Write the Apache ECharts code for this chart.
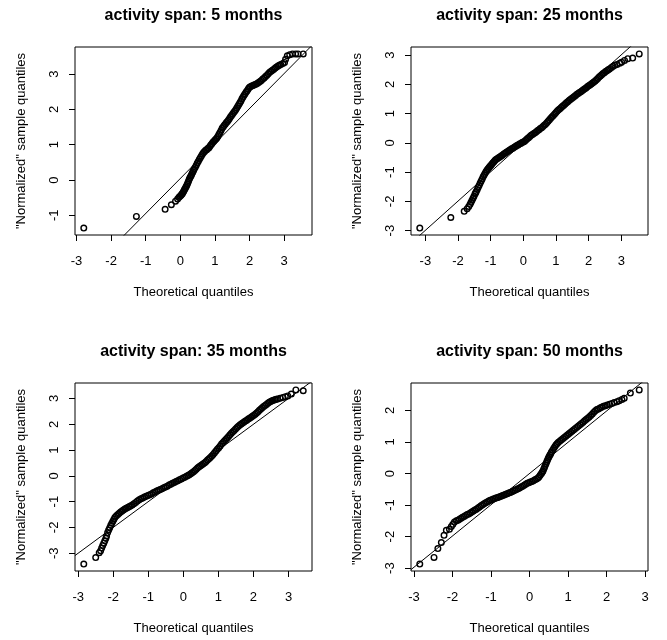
<!DOCTYPE html>
<html>
<head>
<meta charset="utf-8">
<script src="https://cdn.jsdelivr.net/npm/echarts@6/dist/echarts.min.js"></script>
<style>
  html, body { margin: 0; padding: 0; background: #ffffff; }
  #chart { width: 667px; height: 640px; }
</style>
</head>
<body>
<div id="chart"></div>
<script>
// Normal Q-Q plots of the "normalized" samples for four activity spans.
const panelTitles = [
  'activity span: 5 months',
  'activity span: 25 months',
  'activity span: 35 months',
  'activity span: 50 months'
];

const xTicks = [
  [-3, -2, -1, 0, 1, 2, 3],
  [-3, -2, -1, 0, 1, 2, 3],
  [-3, -2, -1, 0, 1, 2, 3],
  [-3, -2, -1, 0, 1, 2, 3]
];
const yTicks = [
  [-1, 0, 1, 2, 3],
  [-3, -2, -1, 0, 1, 2, 3],
  [-3, -2, -1, 0, 1, 2, 3],
  [-3, -2, -1, 0, 1, 2]
];

// reference line (qqline) for each panel: y = intercept + slope * x
const lineSlope = [0.991, 1.0, 1.0, 0.99];
const lineIntercept = [0.044, 0.01, 0.0, 0.0];

// [theoretical quantile, sample quantile]
const span5 = [
  [-2.79,-1.36],[-1.27,-1.03],[-0.44,-0.83],[-0.26,-0.70],[-0.14,-0.60],[-0.08,-0.54],[-0.04,-0.49],
  [-0.01,-0.46],[0.02,-0.43],[0.04,-0.40],[0.06,-0.38],
  [0.08,-0.35],[0.10,-0.31],[0.12,-0.27],[0.14,-0.24],[0.16,-0.20],[0.18,-0.16],[0.20,-0.12],[0.22,-0.07],
  [0.24,-0.02],[0.26,0.03],[0.28,0.07],[0.30,0.11],[0.32,0.14],[0.34,0.19],[0.36,0.23],[0.38,0.27],
  [0.40,0.31],[0.43,0.36],[0.46,0.42],[0.49,0.48],[0.52,0.53],[0.55,0.59],[0.58,0.64],[0.61,0.69],
  [0.64,0.74],[0.67,0.78],[0.70,0.81],[0.73,0.84],[0.76,0.86],[0.79,0.89],[0.82,0.91],[0.85,0.95],
  [0.88,0.99],[0.91,1.03],[0.94,1.07],[0.97,1.10],[1.00,1.13],[1.03,1.16],[1.06,1.20],[1.09,1.25],
  [1.12,1.30],[1.15,1.35],[1.18,1.41],[1.21,1.47],[1.24,1.51],[1.27,1.55],[1.30,1.59],[1.33,1.63],
  [1.36,1.66],[1.39,1.70],[1.42,1.74],[1.45,1.79],[1.48,1.83],[1.51,1.87],[1.54,1.91],[1.57,1.95],
  [1.60,1.99],[1.63,2.04],[1.66,2.09],[1.69,2.14],[1.72,2.19],[1.75,2.24],[1.78,2.30],[1.81,2.35],
  [1.84,2.40],[1.87,2.44],[1.90,2.49],[1.93,2.53],[1.96,2.58],[1.99,2.62],[2.02,2.64],[2.06,2.66],
  [2.10,2.68],[2.14,2.70],[2.18,2.71],[2.22,2.73],[2.26,2.76],[2.30,2.79],[2.34,2.82],[2.38,2.86],
  [2.42,2.89],[2.46,2.93],[2.50,2.97],[2.54,3.01],[2.58,3.05],[2.62,3.08],[2.66,3.11],[2.70,3.14],
  [2.74,3.17],[2.78,3.20],[2.82,3.23],[2.86,3.25],[2.90,3.27],
  [2.96,3.30],[3.01,3.33],[3.04,3.42],[3.09,3.52],[3.16,3.55],[3.24,3.57],[3.33,3.57],[3.40,3.57],[3.55,3.57]
];

const span25 = [
  [-3.17,-2.91],[-2.22,-2.55],[-1.81,-2.34],[-1.72,-2.25],[-1.67,-2.17],[-1.63,-2.10],[-1.60,-2.03],
  [-1.57,-1.96],[-1.54,-1.89],[-1.51,-1.82],[-1.48,-1.75],[-1.46,-1.70],
  [-1.44,-1.66],[-1.41,-1.59],[-1.38,-1.52],[-1.35,-1.45],[-1.32,-1.37],[-1.29,-1.30],[-1.26,-1.23],
  [-1.23,-1.16],[-1.20,-1.10],[-1.17,-1.04],[-1.14,-0.98],[-1.11,-0.93],[-1.08,-0.88],[-1.05,-0.84],
  [-1.02,-0.80],[-0.99,-0.76],[-0.96,-0.72],[-0.93,-0.68],[-0.90,-0.64],[-0.87,-0.60],[-0.84,-0.57],
  [-0.80,-0.54],[-0.76,-0.51],[-0.72,-0.48],[-0.68,-0.45],[-0.64,-0.42],[-0.60,-0.38],[-0.56,-0.35],
  [-0.52,-0.32],[-0.48,-0.29],[-0.44,-0.26],[-0.40,-0.23],[-0.36,-0.20],[-0.32,-0.18],[-0.28,-0.15],
  [-0.24,-0.12],[-0.20,-0.09],[-0.16,-0.07],[-0.12,-0.04],[-0.08,-0.02],[-0.04,0.01],[0.00,0.03],
  [0.04,0.06],[0.08,0.10],[0.12,0.14],[0.16,0.18],[0.20,0.22],[0.24,0.26],[0.28,0.29],[0.32,0.32],
  [0.36,0.35],[0.40,0.38],[0.44,0.42],[0.48,0.45],[0.52,0.49],[0.56,0.52],[0.60,0.56],[0.64,0.60],
  [0.68,0.64],[0.72,0.69],[0.76,0.74],[0.80,0.79],[0.84,0.84],[0.88,0.89],[0.92,0.94],[0.96,0.99],
  [1.00,1.04],[1.04,1.09],[1.08,1.13],[1.12,1.17],[1.16,1.21],[1.20,1.25],[1.24,1.29],[1.28,1.33],
  [1.32,1.37],[1.36,1.41],[1.40,1.45],[1.44,1.48],[1.48,1.52],[1.52,1.55],[1.56,1.59],[1.60,1.62],
  [1.64,1.66],[1.68,1.69],[1.72,1.72],[1.76,1.75],[1.80,1.78],[1.84,1.82],[1.88,1.85],[1.92,1.88],
  [1.96,1.92],[2.00,1.95],[2.04,1.98],[2.08,2.01],[2.12,2.05],[2.16,2.08],[2.20,2.12],[2.24,2.16],
  [2.28,2.20],[2.32,2.25],[2.36,2.29],[2.40,2.33],[2.44,2.37],[2.48,2.40],[2.52,2.44],[2.56,2.47],
  [2.60,2.50],[2.64,2.53],
  [2.70,2.58],[2.75,2.62],[2.80,2.65],[2.87,2.68],[2.95,2.72],[3.01,2.76],[3.10,2.82],[3.20,2.88],
  [3.35,2.90],[3.55,3.04]
];

const span35 = [
  [-2.84,-3.42],[-2.50,-3.17],[-2.40,-2.98],[-2.36,-2.90],[-2.33,-2.80],[-2.30,-2.70],[-2.27,-2.61],
  [-2.24,-2.52],[-2.21,-2.42],[-2.19,-2.33],
  [-2.16,-2.20],[-2.13,-2.10],[-2.10,-2.01],[-2.07,-1.92],[-2.04,-1.84],[-2.01,-1.76],[-1.98,-1.68],
  [-1.95,-1.61],[-1.91,-1.55],[-1.87,-1.50],[-1.83,-1.45],[-1.79,-1.40],[-1.75,-1.36],[-1.71,-1.32],
  [-1.67,-1.29],[-1.63,-1.26],[-1.59,-1.23],[-1.55,-1.20],[-1.51,-1.17],[-1.46,-1.13],[-1.41,-1.08],
  [-1.36,-1.03],[-1.31,-0.98],[-1.26,-0.93],[-1.21,-0.89],[-1.16,-0.86],[-1.11,-0.82],[-1.06,-0.79],
  [-1.01,-0.76],[-0.96,-0.73],[-0.91,-0.70],[-0.86,-0.66],[-0.81,-0.63],[-0.76,-0.59],[-0.71,-0.56],
  [-0.66,-0.53],[-0.61,-0.50],[-0.56,-0.46],[-0.51,-0.43],[-0.46,-0.40],[-0.41,-0.36],[-0.36,-0.33],
  [-0.31,-0.29],[-0.26,-0.26],[-0.21,-0.22],[-0.16,-0.19],[-0.11,-0.15],[-0.06,-0.12],[-0.01,-0.08],
  [0.04,-0.05],[0.09,-0.02],[0.13,0.01],[0.17,0.04],[0.21,0.08],[0.25,0.12],[0.29,0.16],[0.33,0.21],
  [0.37,0.26],[0.41,0.31],[0.45,0.35],[0.49,0.39],[0.53,0.43],[0.57,0.47],[0.61,0.51],[0.65,0.56],
  [0.69,0.61],[0.73,0.66],[0.77,0.71],[0.81,0.77],[0.85,0.83],[0.89,0.90],[0.93,0.96],[0.97,1.03],
  [1.01,1.09],[1.05,1.16],[1.09,1.23],[1.13,1.29],[1.17,1.35],[1.21,1.41],[1.25,1.47],[1.29,1.53],
  [1.33,1.59],[1.37,1.65],[1.41,1.71],[1.45,1.76],[1.49,1.82],[1.53,1.87],[1.57,1.92],[1.61,1.97],
  [1.65,2.01],[1.69,2.05],[1.73,2.09],[1.77,2.13],[1.81,2.16],[1.85,2.20],[1.89,2.23],[1.93,2.27],
  [1.97,2.31],[2.01,2.35],[2.05,2.39],[2.09,2.44],[2.13,2.49],[2.17,2.54],[2.21,2.59],[2.25,2.64],
  [2.29,2.69],[2.33,2.73],[2.37,2.77],[2.41,2.81],[2.45,2.85],[2.49,2.88],[2.53,2.91],[2.57,2.93],
  [2.61,2.95],[2.65,2.97],[2.69,2.98],
  [2.76,3.01],[2.84,3.04],[2.91,3.07],[2.98,3.10],[3.08,3.17],[3.21,3.33],[3.42,3.30]
];

const span50 = [
  [-2.85,-2.87],[-2.48,-2.66],[-2.38,-2.38],[-2.29,-2.19],[-2.22,-1.96],[-2.16,-1.80],[-2.08,-1.77],
  [-2.03,-1.68],[-1.99,-1.61],[-1.95,-1.54],
  [-1.90,-1.50],[-1.86,-1.48],[-1.82,-1.45],[-1.78,-1.42],[-1.74,-1.39],[-1.70,-1.36],[-1.66,-1.33],
  [-1.62,-1.30],[-1.58,-1.28],[-1.54,-1.25],[-1.50,-1.22],[-1.46,-1.19],[-1.42,-1.16],[-1.38,-1.13],
  [-1.34,-1.09],[-1.30,-1.06],[-1.26,-1.02],[-1.22,-0.99],[-1.18,-0.96],[-1.14,-0.93],[-1.10,-0.90],
  [-1.06,-0.87],[-1.02,-0.85],[-0.98,-0.83],[-0.94,-0.81],[-0.90,-0.79],[-0.86,-0.77],[-0.82,-0.76],
  [-0.78,-0.74],[-0.74,-0.72],[-0.70,-0.70],[-0.66,-0.68],[-0.62,-0.66],[-0.58,-0.64],[-0.54,-0.62],
  [-0.50,-0.60],[-0.46,-0.58],[-0.42,-0.55],[-0.38,-0.53],[-0.34,-0.51],[-0.30,-0.48],[-0.26,-0.46],
  [-0.22,-0.43],[-0.18,-0.40],[-0.14,-0.37],[-0.10,-0.34],[-0.06,-0.31],[-0.02,-0.29],[0.02,-0.27],
  [0.06,-0.25],[0.10,-0.23],[0.14,-0.20],[0.18,-0.17],[0.22,-0.14],[0.25,-0.10],[0.28,-0.05],
  [0.31,0.00],[0.33,0.04],[0.35,0.08],[0.37,0.14],[0.39,0.20],[0.41,0.26],[0.43,0.32],[0.45,0.38],
  [0.47,0.44],[0.49,0.49],[0.51,0.54],[0.53,0.59],[0.55,0.63],[0.57,0.68],[0.60,0.74],[0.63,0.80],
  [0.66,0.86],[0.69,0.91],[0.72,0.95],[0.75,0.99],[0.79,1.03],[0.83,1.07],[0.87,1.11],[0.91,1.15],
  [0.95,1.19],[0.99,1.23],[1.03,1.27],[1.07,1.31],[1.11,1.35],[1.15,1.39],[1.19,1.43],[1.23,1.47],
  [1.27,1.51],[1.31,1.55],[1.35,1.59],[1.39,1.63],[1.43,1.67],[1.47,1.71],[1.51,1.75],[1.55,1.79],
  [1.59,1.84],[1.63,1.89],[1.67,1.94],[1.71,1.99],[1.75,2.03],[1.79,2.05],[1.83,2.08],[1.87,2.10],
  [1.92,2.13],[1.97,2.15],[2.02,2.17],[2.08,2.20],[2.14,2.22],[2.20,2.25],[2.27,2.28],[2.33,2.31],
  [2.40,2.35],[2.46,2.39],[2.62,2.55],[2.85,2.65]
];

const panelData = [span5, span25, span35, span50];

// panel rectangles (plot regions)
const grids = [
  { left: 75, top: 47, width: 237, height: 188 },
  { left: 411, top: 47, width: 237, height: 188 },
  { left: 75, top: 383, width: 237, height: 188 },
  { left: 411, top: 383, width: 237, height: 188 }
];

const FONT = "'Liberation Sans', Arial, Helvetica, sans-serif";

// data range widened by 4% on each side
function paddedRange(vals) {
  const lo = Math.min.apply(null, vals);
  const hi = Math.max.apply(null, vals);
  const pad = (hi - lo) * 0.04;
  return [lo - pad, hi + pad];
}

const xAxes = [], yAxes = [], series = [], graphics = [];

panelData.forEach(function (pts, i) {
  const xr = paddedRange(pts.map(function (p) { return p[0]; }));
  const yr = paddedRange(pts.map(function (p) { return p[1]; }));

  xAxes.push({
    type: 'value', gridIndex: i, min: xr[0], max: xr[1], position: 'bottom',
    name: 'Theoretical quantiles', nameLocation: 'middle', nameGap: 51,
    nameMoveOverlap: false,
    nameTextStyle: { color: '#000', fontSize: 13, fontFamily: FONT },
    axisLine: { show: false, onZero: false },
    axisTick: { show: true, inside: false, length: 6, customValues: xTicks[i],
      lineStyle: { color: '#000', width: 1 } },
    axisLabel: { show: true, customValues: xTicks[i], margin: 20, color: '#000',
      fontSize: 13, fontFamily: FONT },
    splitLine: { show: false }
  });

  yAxes.push({
    type: 'value', gridIndex: i, min: yr[0], max: yr[1], position: 'left',
    name: '"Normalized" sample quantiles', nameLocation: 'middle', nameGap: 47,
    nameMoveOverlap: false,
    nameTextStyle: { color: '#000', fontSize: 13, fontFamily: FONT },
    axisLine: { show: false, onZero: false },
    axisTick: { show: true, inside: false, length: 6, customValues: yTicks[i],
      lineStyle: { color: '#000', width: 1 } },
    axisLabel: { show: true, customValues: yTicks[i], rotate: 90, margin: 14, color: '#000',
      fontSize: 13, fontFamily: FONT },
    splitLine: { show: false }
  });

  series.push({
    type: 'scatter', xAxisIndex: i, yAxisIndex: i,
    data: pts, symbol: 'circle', symbolSize: 5.6,
    itemStyle: { color: 'rgba(0,0,0,0)', borderColor: '#000', borderWidth: 1.4, opacity: 1 },
    emphasis: { disabled: true }, silent: true
  });

  series.push({
    type: 'line', xAxisIndex: i, yAxisIndex: i, clip: true,
    data: [
      [xr[0], lineIntercept[i] + lineSlope[i] * xr[0]],
      [xr[1], lineIntercept[i] + lineSlope[i] * xr[1]]
    ],
    symbol: 'none', lineStyle: { color: '#000', width: 1 },
    emphasis: { disabled: true }, silent: true
  });

  const g = grids[i];
  graphics.push({
    type: 'text', x: g.left + g.width / 2, y: g.top - 31,
    style: { text: panelTitles[i], fill: '#000', font: 'bold 16px ' + FONT,
      textAlign: 'center', textVerticalAlign: 'middle' }
  });
});

const chart = echarts.init(document.getElementById('chart'), null, { renderer: 'canvas' });
chart.setOption({
  backgroundColor: '#ffffff',
  animation: false,
  grid: grids.map(function (g) {
    return Object.assign({ show: true, borderColor: '#000', borderWidth: 1,
      backgroundColor: 'rgba(0,0,0,0)', containLabel: false, outerBoundsMode: 'none' }, g);
  }),
  xAxis: xAxes,
  yAxis: yAxes,
  series: series,
  graphic: graphics
});
</script>
</body>
</html>
